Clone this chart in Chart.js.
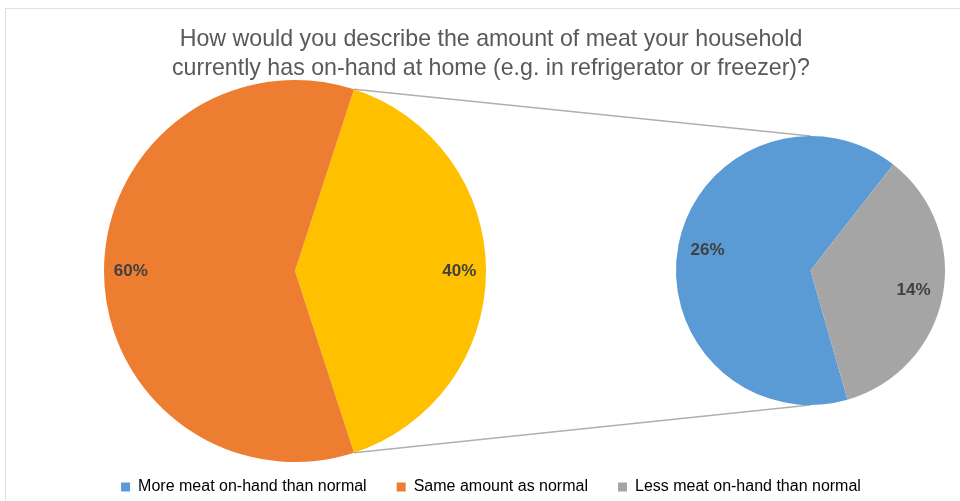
<!DOCTYPE html>
<html>
<head>
<meta charset="utf-8">
<script src="https://cdn.jsdelivr.net/npm/chart.js@4.4.1/dist/chart.umd.min.js"></script>
<style>
  html, body { margin: 0; padding: 0; background: #fff; overflow: hidden; }
  #wrap { position: relative; width: 960px; height: 501px; overflow: hidden; background: #fff; }
  #frame { position: absolute; left: 5px; top: 8px; width: 1000px; height: 600px;
           border: 1px solid #e0e0e0; box-sizing: border-box; }
  canvas { position: absolute; left: 0; top: 0; }
  #detailPie { pointer-events: none; }
</style>
</head>
<body>
<div id="wrap">
  <div id="frame"></div>
  <canvas id="mainPie" width="960" height="501"></canvas>
  <canvas id="detailPie" width="960" height="501"></canvas>
</div>
<script>
// Survey question shown as the chart title
const titleLines = [
  'How would you describe the amount of meat your household',
  'currently has on-hand at home (e.g. in refrigerator or freezer)?'
];

// Main pie: the combined "other" slice and "Same amount as normal"
const mainLabels = ['Other', 'Same amount as normal'];
const mainValues = [40, 60];
const mainColors = ['#FFC000', '#ED7D31'];

// Detail pie: breakdown of the "other" slice
const detailLabels = ['More meat on-hand than normal', 'Less meat on-hand than normal'];
const detailValues = [26, 14];
const detailColors = ['#5B9BD5', '#A5A5A5'];

// Legend entries
const legendLabels = ['More meat on-hand than normal', 'Same amount as normal', 'Less meat on-hand than normal'];
const legendColors = ['#5B9BD5', '#ED7D31', '#A5A5A5'];

// Places the pie inside a fixed square, independent of title/legend boxes
const pieBoxPlugin = {
  id: 'pieBox',
  afterLayout(chart, args, opts) {
    if (opts.size == null) return;
    const a = chart.chartArea;
    a.left = opts.left;
    a.top = opts.top;
    a.right = opts.left + opts.size;
    a.bottom = opts.top + opts.size;
    a.width = opts.size;
    a.height = opts.size;
  }
};

// Percentage labels drawn on each slice along its middle angle
const sliceLabelPlugin = {
  id: 'sliceLabels',
  afterDatasetsDraw(chart, args, opts) {
    const ctx = chart.ctx;
    const meta = chart.getDatasetMeta(0);
    const values = chart.data.datasets[0].data;
    ctx.save();
    ctx.font = opts.font;
    ctx.fillStyle = opts.color;
    ctx.textAlign = 'center';
    ctx.textBaseline = 'middle';
    meta.data.forEach((arc, i) => {
      const mid = (arc.startAngle + arc.endAngle) / 2;
      const r = arc.outerRadius * opts.radius;
      ctx.fillText(values[i] + '%', arc.x + Math.cos(mid) * r, arc.y + Math.sin(mid) * r);
    });
    ctx.restore();
  }
};

const mainChart = new Chart(document.getElementById('mainPie'), {
  type: 'pie',
  data: {
    labels: mainLabels,
    datasets: [{ data: mainValues, backgroundColor: mainColors, borderWidth: 0 }]
  },
  plugins: [pieBoxPlugin, sliceLabelPlugin],
  options: {
    responsive: false,
    animation: false,
    devicePixelRatio: 1,
    rotation: 18,
    layout: { padding: { left: 22, right: 0, top: 0, bottom: -4 } },
    plugins: {
      pieBox: { left: 104, top: 80, size: 382 },
      sliceLabels: { font: 'bold 17px "Liberation Sans", Arial, sans-serif', color: '#404040', radius: 0.86 },
      tooltip: { enabled: false },
      title: {
        display: true,
        text: titleLines,
        color: '#595959',
        font: { family: '"Liberation Sans", Arial, sans-serif', size: 23.2, weight: 'normal', lineHeight: 1.24 },
        padding: { top: 25, bottom: 0 }
      },
      legend: {
        display: true,
        position: 'bottom',
        labels: {
          boxWidth: 9,
          boxHeight: 9,
          padding: 30,
          color: '#404040',
          font: { family: '"Liberation Sans", Arial, sans-serif', size: 16 },
          generateLabels: () => legendLabels.map((text, i) => ({
            text,
            fillStyle: legendColors[i],
            strokeStyle: legendColors[i],
            lineWidth: 0,
            hidden: false,
            index: i
          }))
        },
        onClick: () => {}
      }
    }
  }
});

// Lines joining the edges of the "other" slice to the detail pie
const connectorPlugin = {
  id: 'connectors',
  beforeDatasetsDraw(chart, args, opts) {
    const src = mainChart.getDatasetMeta(0).data[0];
    const dst = chart.getDatasetMeta(0).data[0];
    const ctx = chart.ctx;
    const r = src.outerRadius;
    const p1 = { x: src.x + Math.cos(src.startAngle) * r, y: src.y + Math.sin(src.startAngle) * r };
    const p2 = { x: src.x + Math.cos(src.endAngle) * r, y: src.y + Math.sin(src.endAngle) * r };
    ctx.save();
    ctx.strokeStyle = opts.color;
    ctx.lineWidth = opts.width;
    ctx.beginPath();
    ctx.moveTo(p1.x, p1.y);
    ctx.lineTo(dst.x, dst.y - dst.outerRadius);
    ctx.moveTo(p2.x, p2.y);
    ctx.lineTo(dst.x, dst.y + dst.outerRadius);
    ctx.stroke();
    ctx.restore();
  }
};

new Chart(document.getElementById('detailPie'), {
  type: 'pie',
  data: {
    labels: detailLabels,
    datasets: [{ data: detailValues, backgroundColor: detailColors, borderWidth: 0 }]
  },
  plugins: [pieBoxPlugin, connectorPlugin, sliceLabelPlugin],
  options: {
    responsive: false,
    animation: false,
    devicePixelRatio: 1,
    rotation: 164,
    events: [],
    plugins: {
      pieBox: { left: 676, top: 136, size: 269 },
      connectors: { color: '#AFAFAF', width: 1.5 },
      sliceLabels: { font: 'bold 17px "Liberation Sans", Arial, sans-serif', color: '#404040', radius: 0.78 },
      tooltip: { enabled: false },
      title: { display: false },
      legend: { display: false }
    }
  }
});
</script>
</body>
</html>
